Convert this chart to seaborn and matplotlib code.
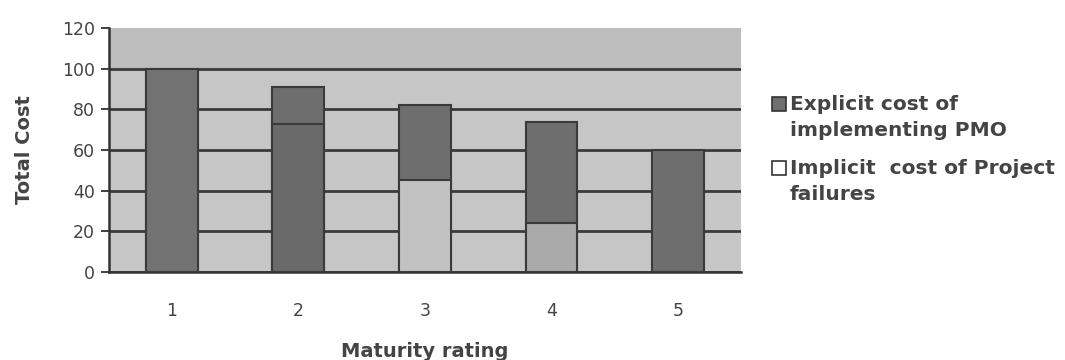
import matplotlib
matplotlib.use("Agg")
import matplotlib.pyplot as plt
import seaborn as sns
import pandas as pd
from matplotlib.patches import Rectangle

categories = ["1", "2", "3", "4", "5"]
implicit_cost = [100, 73, 45, 24, 0]
explicit_cost = [0, 18, 37, 50, 60]
series_names = ["Explicit cost of\nimplementing PMO", "Implicit  cost of Project\nfailures"]
yticks = [0, 20, 40, 60, 80, 100, 120]

# per-bar look of the lower segments in the scanned original
implicit_colors = ["#727272", "#6a6a6a", "#c2c2c2", "#aaaaaa", "#c2c2c2"]
explicit_color = "#6e6e6e"
legend_colors = [explicit_color, "#ffffff"]
text_color = "#444444"

sns.set_theme(style="white")
plt.rcParams['font.family'] = ['DejaVu Sans']

df = pd.DataFrame({
    "rating": categories,
    "implicit": implicit_cost,
    "explicit": explicit_cost,
})
df["total"] = df["implicit"] + df["explicit"]

fig = plt.figure(figsize=(10.65, 3.6), dpi=100)
ax = fig.add_axes([0.102, 0.245, 0.594, 0.677])
ax.set_facecolor("#c6c6c6")
ax.axhspan(100, 120, color="#bdbdbd", zorder=0)

sns.barplot(data=df, x="rating", y="total", color=explicit_color, width=0.41,
            edgecolor="#3a3a3a", linewidth=1.5, saturation=1, ax=ax, zorder=3)
sns.barplot(data=df, x="rating", y="implicit", hue="rating", palette=implicit_colors,
            legend=False, width=0.41, edgecolor="#3a3a3a", linewidth=1.5,
            saturation=1, ax=ax, zorder=4)

ax.set_ylim(0, 120)
ax.set_xlim(-0.5, 4.5)
ax.set_yticks(yticks)
ax.yaxis.grid(True, color="#3a3a3a", linewidth=2.0, zorder=1)
ax.get_ygridlines()[-1].set_visible(False)
ax.set_axisbelow(True)
for s in ["top", "right"]:
    ax.spines[s].set_visible(False)
for s in ["left", "bottom"]:
    ax.spines[s].set_color("#333333")
    ax.spines[s].set_linewidth(1.8)

ax.set_xticks([i - 0.5 for i in range(6)], minor=True)
ax.tick_params(axis="x", which="major", length=0, pad=22, labelsize=12.5, labelcolor=text_color)
ax.tick_params(axis="x", which="minor", length=6, color="#333333", width=1.3)
ax.tick_params(axis="y", length=6, color="#333333", width=1.3, labelsize=12.5,
               labelcolor=text_color, left=True, pad=4)

ax.set_xlabel("Maturity rating", fontsize=14, color=text_color, fontweight="bold")
ax.set_ylabel("Total Cost", fontsize=14, color=text_color, fontweight="bold")
ax.xaxis.set_label_coords(0.5, -0.29)
ax.yaxis.set_label_coords(-0.118, 0.5)

# legend (Excel style: key square aligned with the first line of each label)
W, H = 1065.0, 360.0
entry_tops = [95, 159]
for name, col, top in zip(series_names, legend_colors, entry_tops):
    fig.patches.append(Rectangle((772 / W, 1 - (top + 16) / H), 14 / W, 14 / H,
                                 transform=fig.transFigure, facecolor=col,
                                 edgecolor="#333333", linewidth=1.2))
    fig.text(790 / W, 1 - top / H, name, ha="left", va="top", fontsize=14.5,
             fontweight="bold", color=text_color, linespacing=1.5)

fig.savefig("out.png", dpi=100)
